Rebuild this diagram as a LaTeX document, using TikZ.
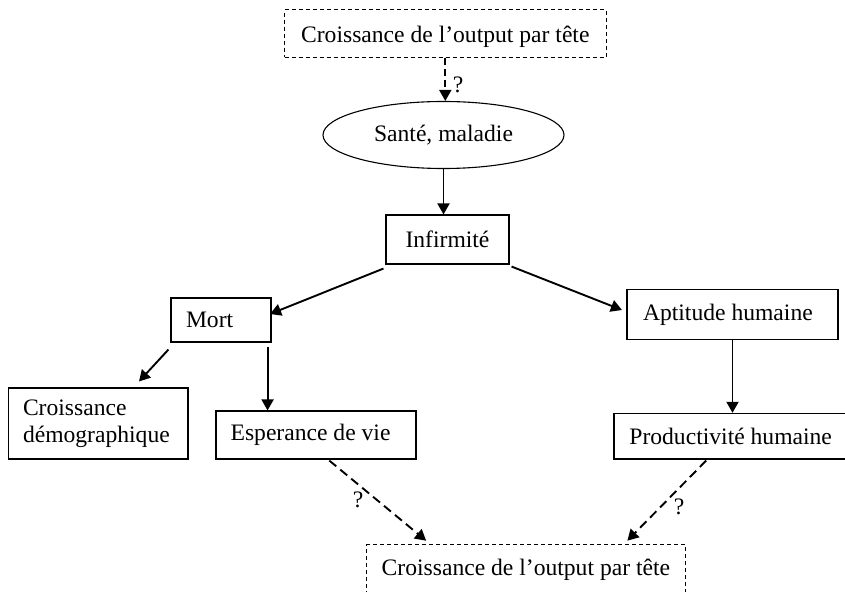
\documentclass[tikz,border=0pt]{standalone}
\usepackage{fontspec}
\setmainfont{Liberation Serif}
\usetikzlibrary{arrows.meta,shapes.geometric}
\begin{document}
\begin{tikzpicture}[x=0.5pt,y=-0.5pt,
  every node/.style={font=\fontsize{11.8}{13.3}\selectfont, text=black},
  plainbox/.style={draw=black, line width=0.55pt, inner ysep=0pt, minimum height=#1},
  dashbox/.style={draw=black, line width=0.55pt, dash pattern=on 2pt off 1.5pt, inner sep=0pt},
  conn/.style={line width=0.95pt, -{Triangle[length=5.5pt,width=6pt]}},
  dconn/.style={conn, dash pattern=on 4.5pt off 2.6pt},
  qmark/.style={inner sep=0pt}
]
\useasboundingbox (0,0) rectangle (845,592);

% nodes
\node[dashbox, minimum width=160.75pt, text height=16.15pt, text depth=7.45pt, anchor=north] (top) at (445.3,9.4) {Croissance de l’output par tête};
\node[draw=black, line width=0.55pt, ellipse, inner sep=0pt, minimum width=120.5pt, minimum height=33.5pt] (ell) at (443.5,135) {Santé, maladie};
\node[plainbox=24.5pt, minimum width=61.5pt, inner xsep=0pt] (inf) at (447.5,239.5) {Infirmité};
\node[plainbox=22pt, inner xsep=7.5pt] (mort) at (221,320) {\makebox[35pt][l]{Mort}};
\node[plainbox=25pt, inner xsep=8pt] (apt) at (732.5,314.5) {\makebox[89.5pt][l]{Aptitude humaine}};
\node[plainbox=35.5pt, inner xsep=7.2pt] (demo) at (98.3,423.5) {\makebox[75.3pt][l]{\begin{tabular}{@{}l@{}}Croissance\\démographique\end{tabular}}};
\node[plainbox=24pt, inner xsep=7.3pt] (esp) at (316,435) {\makebox[85.4pt][l]{Esperance de vie}};
\node[plainbox=22.85pt, inner xsep=7.7pt] (prod) at (731,436.2) {\makebox[101.6pt][l]{Productivité humaine}};
\node[dashbox, minimum width=159.2pt, text height=15.5pt, text depth=10.5pt, anchor=north] (bot) at (525.9,544) {Croissance de l’output par tête};

% question marks
\node[qmark] (q1) at (458,85) {?};
\node[qmark] (q2) at (358,500) {?};
\node[qmark] (q3) at (679,506.7) {?};

% connectors
\draw[dconn, dash pattern=on 3.5pt off 2pt] (top.south) -- (top.south |- ell.north);
\draw[conn] (ell.south) -- (ell.south |- inf.north);
\draw[conn] ([shift={(-2,4)}]inf.south west) -- ([shift={(-1.5,-6)}]mort.east);
\draw[conn] ([shift={(2,2)}]inf.south east) -- ([shift={(-4.5,-4.5)}]apt.west);
\draw[conn] ([shift={(-2,7)}]mort.south west) -- ([shift={(40.7,-6)}]demo.north);
\coordinate (m1) at ([shift={(-4,4)}]mort.south east);
\draw[conn] (m1) -- (m1 |- esp.north);
\draw[conn] (apt.south) -- (apt.south |- prod.north);
\draw[dconn] ([shift={(13.3,1)}]esp.south) -- ([shift={(60,-3.3)}]bot.north west);
\draw[dconn] ([shift={(92.7,1)}]prod.south west) -- ([shift={(-58.3,-3.3)}]bot.north east);
\end{tikzpicture}
\end{document}
